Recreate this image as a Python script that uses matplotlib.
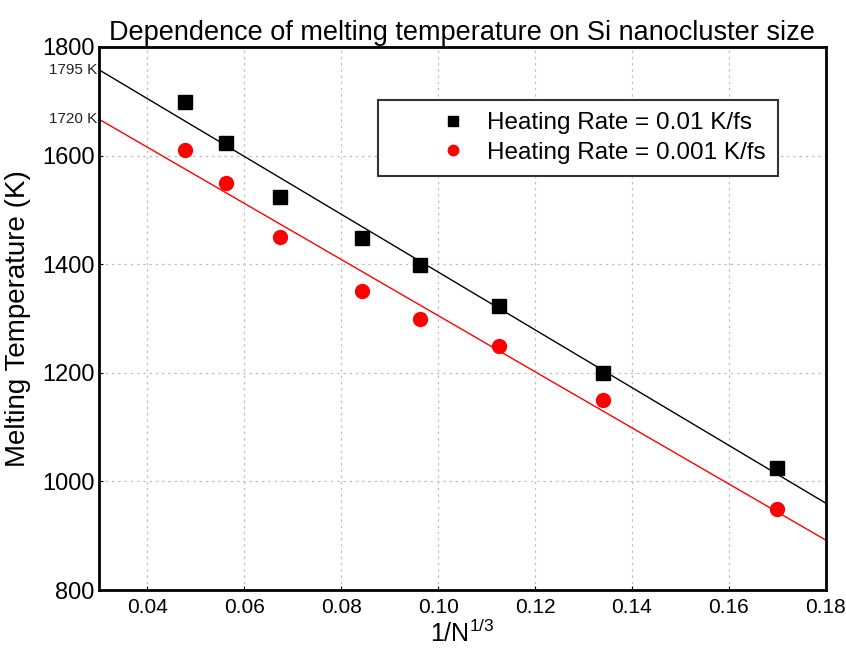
import matplotlib.pyplot as plt

plt.rcParams['font.family'] = ['Liberation Sans', 'DejaVu Sans']

# 1/N^(1/3) for each cluster
inv_n = [0.0478, 0.0563, 0.0673, 0.0842, 0.0962, 0.1125, 0.1340, 0.1699]
# melting temperatures (K)
tm_fast = [1699, 1623, 1524, 1448, 1399, 1323, 1200, 1025]
tm_slow = [1610, 1550, 1450, 1350, 1299, 1249, 1150, 949]

# linear fits, evaluated at the axis limits
fit_x = [0.03, 0.18]
fit_fast = [1758, 960]
fit_slow = [1667, 892]

xticks = [0.04, 0.06, 0.08, 0.10, 0.12, 0.14, 0.16, 0.18]
yticks = [800, 1000, 1200, 1400, 1600, 1800]

fig = plt.figure(figsize=(8.46, 6.48), dpi=100)
ax = fig.add_axes([0.117, 0.0895, 0.859, 0.838])

ax.grid(True, color='#c0c0c0', linestyle=(0, (2, 3)), linewidth=0.9)
ax.set_axisbelow(True)

ax.plot(fit_x, fit_fast, color='black', linewidth=1.0)
ax.plot(fit_x, fit_slow, color='red', linewidth=1.0)
ax.plot(inv_n, tm_fast, 's', color='black', markersize=10, label='Heating Rate = 0.01 K/fs')
ax.plot(inv_n, tm_slow, 'o', color='red', markersize=10, label='Heating Rate = 0.001 K/fs')

ax.set_xlim(0.03, 0.18)
ax.set_ylim(800, 1800)
ax.set_xticks(xticks)
ax.set_xticklabels(['{:.2f}'.format(v) for v in xticks])
ax.set_yticks(yticks)
ax.tick_params(axis='x', labelsize=15, length=3, direction='in', pad=6)
ax.tick_params(axis='y', labelsize=17, length=3, direction='in', pad=3)
for s in ax.spines.values():
    s.set_linewidth(2)

ax.set_xlabel('1/N$^{\\mathregular{1/3}}$', fontsize=18, labelpad=2)
ax.set_ylabel('Melting Temperature (K)', fontsize=20, labelpad=8)
ax.set_title('Dependence of melting temperature on Si nanocluster size', fontsize=19.5, pad=5)

# intercept annotations at left edge
ax.text(0.0297, 1758, '1795 K', fontsize=11, ha='right', va='center', color='#222222')
ax.text(0.0297, 1667, '1720 K', fontsize=11, ha='right', va='center', color='#222222')

leg = ax.legend(loc='upper left', bbox_to_anchor=(0.384, 0.902), fontsize=17.5,
                fancybox=False, edgecolor='#333333', framealpha=1,
                handletextpad=-1.2, borderpad=0.5, labelspacing=0.3,
                handlelength=5.2, markerscale=0.75, borderaxespad=0)
leg.get_frame().set_linewidth(1.5)

fig.savefig('out.png')
